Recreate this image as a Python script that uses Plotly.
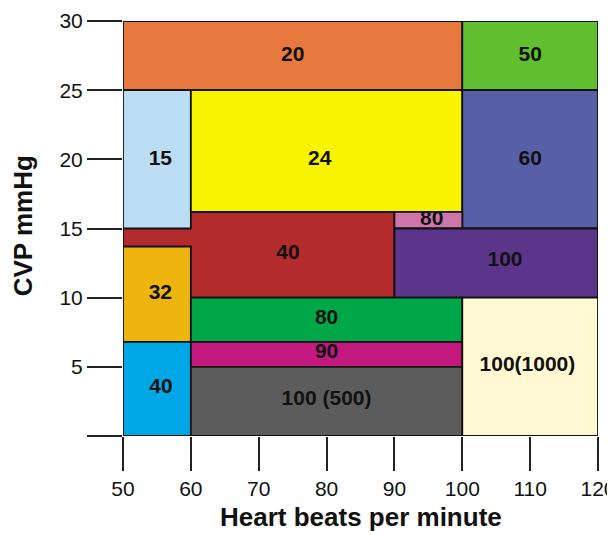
#--------------------- Packages
import plotly.graph_objects as go

#--------------------- Data
# each block: heart-rate range (x) and CVP range (y), with its label
hr_lo = [50, 50, 100, 50, 60, 100, 90, 90, 50, 50, 60, 60, 60, 100]
hr_hi = [90, 100, 120, 60, 100, 120, 100, 120, 60, 60, 100, 100, 100, 120]
cvp_lo = [10, 25, 25, 15, 16.2, 15, 15, 10, 6.8, 0, 6.8, 5, 0, 0]
cvp_hi = [16.2, 30, 30, 25, 25, 25, 16.2, 15, 13.7, 6.8, 10, 6.8, 5, 10]
labels = ['40', '20', '50', '15', '24', '60', '80', '100', '32', '40', '80', '90', '100 (500)', '100(1000)']
label_x = [74.3, 75, 110, 55.5, 79, 110, 95.5, 106.3, 55.5, 55.6, 80, 80, 80, 109.6]
label_y = [13.2, 27.5, 27.5, 20, 20, 20, 15.6, 12.7, 10.3, 3.5, 8.5, 6.0, 2.6, 5.1]

colors = ['#B42B2E', '#E8793E', '#61BE2E', '#BBDEF5', '#F8F400', '#575FA7', '#CE75AB',
          '#5B3589', '#EEB50F', '#00A7E7', '#00A748', '#C3197F', '#5C5C5C', '#FFF8D2']

x_ticks = [50, 60, 70, 80, 90, 100, 110, 120]
y_ticks = [0, 5, 10, 15, 20, 25, 30]
y_ticktext = ['', '5', '10', '15', '20', '25', '30']

#--------------------- Figure
fig = go.Figure()

for i in range(len(labels)):
    fig.add_trace(go.Scatter(
        x=[hr_lo[i], hr_hi[i], hr_hi[i], hr_lo[i], hr_lo[i]],
        y=[cvp_lo[i], cvp_lo[i], cvp_hi[i], cvp_hi[i], cvp_lo[i]],
        mode='lines', fill='toself', fillcolor=colors[i],
        line=dict(color='#111111', width=1.8),
        hoverinfo='skip', showlegend=False))

# block labels
fig.add_trace(go.Scatter(
    x=label_x, y=label_y, mode='text', text=labels,
    textfont=dict(size=21, color='#111111', family='Liberation Sans, Arial'),
    texttemplate='<b>%{text}</b>',
    hoverinfo='skip', showlegend=False))

# Axes Parameters
fig.update_xaxes(
    range=[50, 120], tickvals=x_ticks, automargin=False,
    showgrid=False, zeroline=False, showline=False,
    ticks='outside', ticklen=34, tickwidth=2, tickcolor='#222222',
    tickfont=dict(size=21, color='#111111'))

fig.update_yaxes(
    range=[0, 30], tickvals=y_ticks, ticktext=y_ticktext, automargin=False,
    showgrid=False, zeroline=False, showline=False,
    ticks='outside', ticklen=35, tickwidth=2, tickcolor='#222222',
    tickfont=dict(size=21, color='#111111'))

# Axis titles
fig.add_annotation(
    text='<b>Heart beats per minute</b>', xref='paper', yref='paper',
    x=0.5, y=-0.196, xanchor='center', yanchor='middle', showarrow=False,
    font=dict(size=26, color='#111111'))
fig.add_annotation(
    text='<b>CVP mmHg</b>', xref='paper', yref='paper', textangle=-90,
    x=-0.21, y=0.506, xanchor='center', yanchor='middle', showarrow=False,
    font=dict(size=26, color='#111111'))

# Layout parameters (page body adds an 8px offset)
fig.update_layout(
    width=615, height=535,
    margin=dict(l=115, r=25, t=13, b=107),
    plot_bgcolor='white', paper_bgcolor='white',
    font=dict(family='Liberation Sans, Arial', color='#111111'))

fig.write_html("out.html")
